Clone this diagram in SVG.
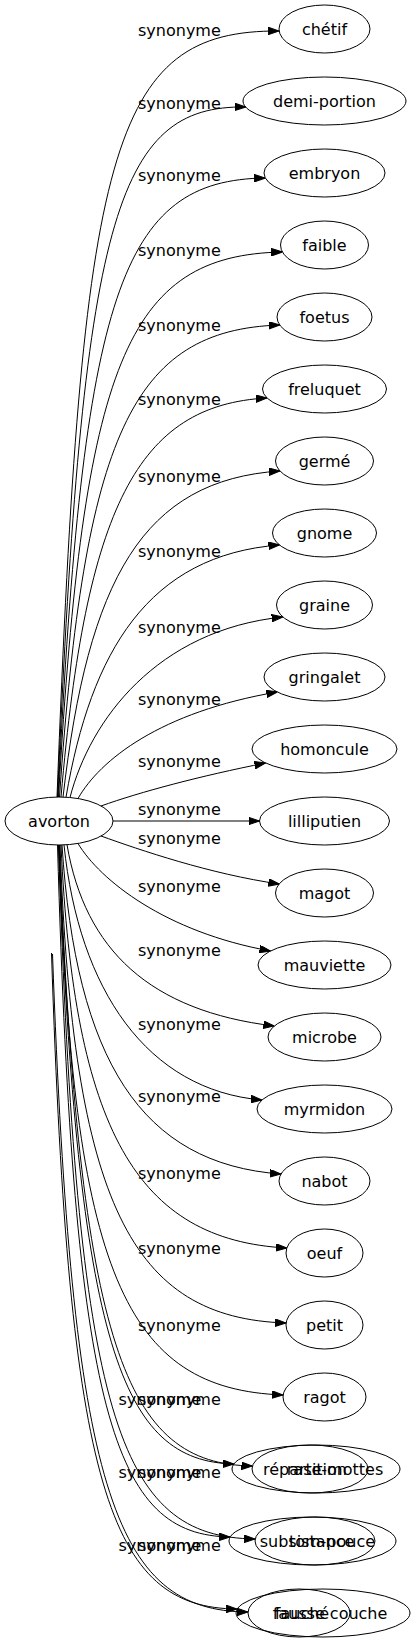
<svg xmlns="http://www.w3.org/2000/svg" width="417" height="1643" viewBox="0 0 417 1643">
<style>
text{font-family:"DejaVu Sans","Liberation Sans",sans-serif;font-size:16px;fill:#000}
.n ellipse{fill:none;stroke:#000;stroke-width:1}
.n text{text-anchor:middle}
.e path{fill:none;stroke:#000;stroke-width:1;marker-end:url(#ah)}
.l text{text-anchor:start}
</style>
<defs>
<marker id="ah" markerWidth="11" markerHeight="8" refX="11" refY="3.75" orient="auto" markerUnits="userSpaceOnUse">
<path d="M0,0 L11,3.75 L0,7.5 z" fill="#000" stroke="#000" stroke-width="1"/>
</marker>
</defs>
<rect width="417" height="1643" fill="#fff"/>
<g id="edges" class="e">
<path d="M57,797.1 C82,147 110,30 279.2,31"/>
<path d="M57.5,797.1 C82.5,219 115.5,105 245.6,107"/>
<path d="M58,797 C83,291 121,180 265.3,178"/>
<path d="M58.5,797 C83.5,363 126.5,255 282.4,252"/>
<path d="M59.5,797 C84.5,435 132,330 279.7,325"/>
<path d="M61,797.1 C86,507 137.5,405 267,398"/>
<path d="M63,797.2 C88,579 143,480 280,471"/>
<path d="M66,797.2 C91,651 148.5,555 279.5,545"/>
<path d="M70,797.5 C90,720 157,630 282.7,617"/>
<path d="M78,798.5 C100,760 160,712 277.3,692"/>
<path d="M101,806 C140,792 200,776 265.6,763"/>
<path d="M113,821 L259.5,821"/>
<path d="M101,836 C140,850 210,874 279.3,884"/>
<path d="M78,843.5 C100,880 165,932 270.5,951"/>
<path d="M67,844.7 C85,950 150,1011 274.3,1026"/>
<path d="M64,844.9 C79,990 147,1090 261.9,1100"/>
<path d="M62,845 C76,1060 141,1164 281.1,1174"/>
<path d="M61,845 C74,1130 137,1240 286.8,1248"/>
<path d="M60,845 C73,1205 132,1318 286.1,1323"/>
<path d="M59.5,845 C72,1277 126.5,1389 283.1,1395"/>
<path d="M58.5,845 C78,1350 122,1461 233.8,1464"/>
<path d="M59,845 C80,1350 125,1464 252.5,1466"/>
<path d="M57.5,845 C74,1420 114,1535 230.2,1537"/>
<path d="M58.5,845 C77,1420 118,1537 255.2,1539"/>
<path d="M51.5,953 C69,1490 109,1608 237.2,1609"/>
<path d="M52.5,954 C72,1490 113,1611 248,1612"/>
</g>
<g id="edge-labels" class="l">
<text x="138" y="36">synonyme</text>
<text x="138" y="108.5">synonyme</text>
<text x="138" y="180.5">synonyme</text>
<text x="138" y="256">synonyme</text>
<text x="138" y="331">synonyme</text>
<text x="138" y="405">synonyme</text>
<text x="138" y="482">synonyme</text>
<text x="138" y="557">synonyme</text>
<text x="138" y="633">synonyme</text>
<text x="138" y="705">synonyme</text>
<text x="138" y="767">synonyme</text>
<text x="138" y="815">synonyme</text>
<text x="138" y="844">synonyme</text>
<text x="138" y="892">synonyme</text>
<text x="138" y="956">synonyme</text>
<text x="138" y="1030">synonyme</text>
<text x="138" y="1102">synonyme</text>
<text x="138" y="1179">synonyme</text>
<text x="138" y="1254">synonyme</text>
<text x="138" y="1331">synonyme</text>
<text x="118.5" y="1405">synonyme</text>
<text x="138" y="1405">synonyme</text>
<text x="118.5" y="1478">synonyme</text>
<text x="138" y="1478">synonyme</text>
<text x="118.5" y="1551">synonyme</text>
<text x="138" y="1551">synonyme</text>
</g>
<g id="node-avorton" class="n"><ellipse cx="59" cy="821" rx="54" ry="24"/><text x="59" y="826.5">avorton</text></g>
<g id="node-chetif" class="n"><ellipse cx="324.5" cy="29" rx="45.5" ry="24"/><text x="324.5" y="34.5">chétif</text></g>
<g id="node-demi-portion" class="n"><ellipse cx="324.5" cy="101" rx="81.5" ry="24"/><text x="324.5" y="106.5">demi-portion</text></g>
<g id="node-embryon" class="n"><ellipse cx="324.5" cy="173" rx="60.5" ry="24"/><text x="324.5" y="178.5">embryon</text></g>
<g id="node-faible" class="n"><ellipse cx="324.5" cy="245" rx="44" ry="24"/><text x="324.5" y="250.5">faible</text></g>
<g id="node-foetus" class="n"><ellipse cx="324.5" cy="317" rx="47.5" ry="24"/><text x="324.5" y="322.5">foetus</text></g>
<g id="node-freluquet" class="n"><ellipse cx="324.5" cy="389" rx="62" ry="24"/><text x="324.5" y="394.5">freluquet</text></g>
<g id="node-germe" class="n"><ellipse cx="324.5" cy="461" rx="49" ry="24"/><text x="324.5" y="466.5">germé</text></g>
<g id="node-gnome" class="n"><ellipse cx="324.5" cy="533" rx="52" ry="24"/><text x="324.5" y="538.5">gnome</text></g>
<g id="node-graine" class="n"><ellipse cx="324.5" cy="605" rx="48" ry="24"/><text x="324.5" y="610.5">graine</text></g>
<g id="node-gringalet" class="n"><ellipse cx="324.5" cy="677" rx="60.5" ry="24"/><text x="324.5" y="682.5">gringalet</text></g>
<g id="node-homoncule" class="n"><ellipse cx="324.5" cy="749" rx="72.5" ry="24"/><text x="324.5" y="754.5">homoncule</text></g>
<g id="node-lilliputien" class="n"><ellipse cx="324.5" cy="821" rx="65" ry="24"/><text x="324.5" y="826.5">lilliputien</text></g>
<g id="node-magot" class="n"><ellipse cx="324.5" cy="893" rx="49" ry="24"/><text x="324.5" y="898.5">magot</text></g>
<g id="node-mauviette" class="n"><ellipse cx="324.5" cy="965" rx="66.5" ry="24"/><text x="324.5" y="970.5">mauviette</text></g>
<g id="node-microbe" class="n"><ellipse cx="324.5" cy="1037" rx="56.5" ry="24"/><text x="324.5" y="1042.5">microbe</text></g>
<g id="node-myrmidon" class="n"><ellipse cx="324.5" cy="1109" rx="67.5" ry="24"/><text x="324.5" y="1114.5">myrmidon</text></g>
<g id="node-nabot" class="n"><ellipse cx="324.5" cy="1181" rx="45.5" ry="24"/><text x="324.5" y="1186.5">nabot</text></g>
<g id="node-oeuf" class="n"><ellipse cx="324.5" cy="1253" rx="38.5" ry="24"/><text x="324.5" y="1258.5">oeuf</text></g>
<g id="node-petit" class="n"><ellipse cx="324.5" cy="1325" rx="38.5" ry="24"/><text x="324.5" y="1330.5">petit</text></g>
<g id="node-ragot" class="n"><ellipse cx="324.5" cy="1397" rx="41.5" ry="24"/><text x="324.5" y="1402.5">ragot</text></g>
<g id="node-repartition" class="n"><ellipse cx="310" cy="1469" rx="58" ry="24"/><text x="305" y="1474.5">répartition</text></g>
<g id="node-rase-mottes" class="n"><ellipse cx="316" cy="1469" rx="84" ry="24"/><text x="335" y="1474.5">rase-mottes</text></g>
<g id="node-subsistance" class="n"><ellipse cx="312.5" cy="1541" rx="83.5" ry="24"/><text x="307" y="1546.5">subsistance</text></g>
<g id="node-tom-pouce" class="n"><ellipse cx="315" cy="1541" rx="60" ry="24"/><text x="332" y="1546.5">tom-pouce</text></g>
<g id="node-fausse-couche" class="n"><ellipse cx="323" cy="1613" rx="87" ry="24"/><text x="330" y="1618.5">fausse couche</text></g>
<g id="node-fauche" class="n"><ellipse cx="299" cy="1613" rx="51" ry="24"/><text x="302" y="1618.5">fauché</text></g>
</svg>
